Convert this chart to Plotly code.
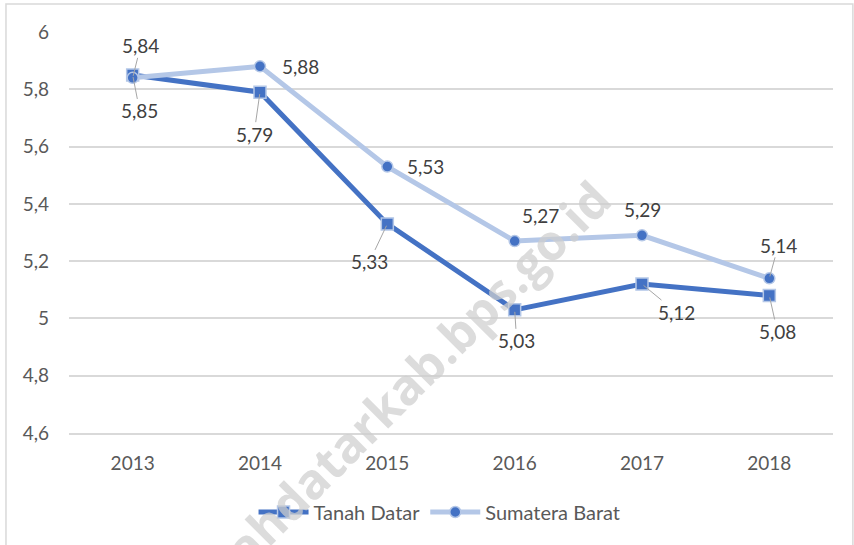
import plotly.graph_objects as go

# Data
years = ["2013", "2014", "2015", "2016", "2017", "2018"]
tanah_datar = [5.85, 5.79, 5.33, 5.03, 5.12, 5.08]
sumatera_barat = [5.84, 5.88, 5.53, 5.27, 5.29, 5.14]
y_ticks = [4.6, 4.8, 5.0, 5.2, 5.4, 5.6, 5.8, 6.0]

DARK = "#4472C4"
LIGHT = "#B4C7E7"
FONT = "Lato"
TEXT_GREY = "#595959"
LABEL_GREY = "#404040"
LEADER = "#A6A6A6"

fig = go.Figure()

fig.add_trace(go.Scatter(
    x=years, y=tanah_datar, name="Tanah Datar", mode="lines+markers",
    line=dict(color=DARK, width=5),
    marker=dict(symbol="square", size=12, color=DARK,
                line=dict(color=LIGHT, width=1.5)),
))
fig.add_trace(go.Scatter(
    x=years, y=sumatera_barat, name="Sumatera Barat", mode="lines+markers",
    line=dict(color=LIGHT, width=5),
    marker=dict(symbol="circle", size=11, color=DARK,
                line=dict(color=LIGHT, width=1.5)),
))


def fmt(v):
    return f"{v:.2f}".replace(".", ",")


# watermark across the plot
annotations = [dict(
    x=0.4175, y=0.077, xref="paper", yref="paper",
    xanchor="center", yanchor="middle",
    text="<b>tanahdatarkab.bps.go.id</b>", showarrow=False, textangle=-45,
    font=dict(family="Open Sans", size=49, color="#CFCFCF"), opacity=0.72,
)]

# label offsets (pixels) and whether a leader line is drawn
td_offsets = [(7, 36, True), (-6, 42, True), (-18, 38, True),
              (2, 31, True), (34, 28, True), (8, 36, True)]
sb_offsets = [(8, -32, True), (40, 0, False), (38, 0, False),
              (26, -26, False), (0, -26, False), (9, -33, True)]

for series, offsets in ((tanah_datar, td_offsets), (sumatera_barat, sb_offsets)):
    for i, (v, (dx, dy, leader)) in enumerate(zip(series, offsets)):
        # category axis: position by category index
        if leader:
            annotations.append(dict(
                x=i, y=v, xref="x", yref="y", text=fmt(v),
                showarrow=True, ax=dx, ay=dy, arrowhead=0, arrowwidth=1,
                arrowcolor=LEADER, standoff=2, borderpad=0,
                font=dict(family=FONT, size=19, color=LABEL_GREY),
            ))
        else:
            annotations.append(dict(
                x=i, y=v, xref="x", yref="y", text=fmt(v),
                showarrow=False, xshift=dx, yshift=-dy,
                font=dict(family=FONT, size=19, color=LABEL_GREY),
            ))

shapes = [
    # outer chart frame
    dict(type="rect", xref="paper", yref="paper",
         x0=-0.0825, x1=1.026, y0=-0.30, y1=1.0698,
         line=dict(color="#D9D9D9", width=1.5), fillcolor="rgba(0,0,0,0)",
         layer="below"),
]

fig.update_layout(
    width=854, height=545,
    margin=dict(l=69, r=21, t=32, b=112),
    paper_bgcolor="white", plot_bgcolor="white",
    separators=",.",
    showlegend=True,
    legend=dict(orientation="h", x=0.485, xanchor="center", y=-0.197,
                yanchor="middle", itemwidth=50,
                font=dict(family=FONT, size=20, color=TEXT_GREY)),
    annotations=annotations,
    shapes=shapes,
    font=dict(family=FONT, color=TEXT_GREY),
)

fig.update_xaxes(
    type="category", range=[-0.5, 5.5],
    showgrid=False, showline=True, linecolor="#D9D9D9", linewidth=1.5,
    ticks="", ticklabelstandoff=12,
    tickfont=dict(family=FONT, size=19, color=TEXT_GREY),
)
fig.update_yaxes(
    range=[4.6, 6.0], tickvals=y_ticks,
    showgrid=True, gridcolor="#D9D9D9", gridwidth=1.5,
    zeroline=False, showline=False, ticks="", ticklabelstandoff=19,
    tickfont=dict(family=FONT, size=19, color=TEXT_GREY),
)

fig.write_html("out.html")
